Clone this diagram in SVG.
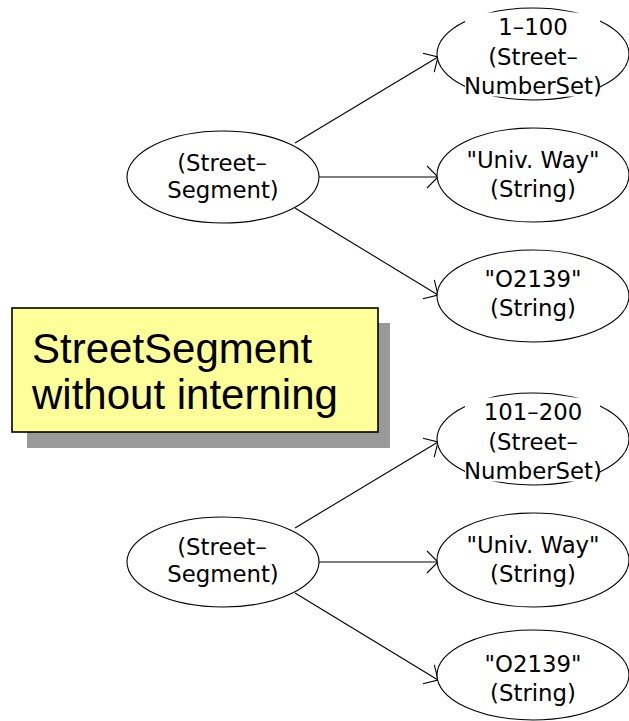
<svg xmlns="http://www.w3.org/2000/svg" width="629" height="721" viewBox="0 0 629 721">
  <style>
    .node ellipse { fill: #ffffff; stroke: #000000; stroke-width: 1.1; }
    .node text { font-family: "DejaVu Sans", "Liberation Sans", sans-serif; font-size: 22.8px; fill: #000000; text-anchor: middle; }
    .mask { fill: #ffffff; stroke: none; }
    .edge { stroke: #000000; stroke-width: 1.1; fill: none; marker-end: url(#open-arrow); }
    .note-text { font-family: "Liberation Sans", Arial, sans-serif; font-size: 42px; fill: #000000; }
  </style>
  <defs>
    <marker id="open-arrow" markerUnits="userSpaceOnUse" markerWidth="24" markerHeight="24" refX="12" refY="12" orient="auto" overflow="visible">
      <path d="M1,1 L12,12 L1,23" fill="none" stroke="#000000" stroke-width="1.1"/>
    </marker>
  </defs>

  <rect width="629" height="721" fill="#ffffff"/>

  <!-- connectors -->
  <g id="connectors">
    <line class="edge" x1="295" y1="143" x2="438" y2="57"/>
    <line class="edge" x1="319" y1="177" x2="438" y2="177"/>
    <line class="edge" x1="295" y1="208" x2="438" y2="295"/>
    <line class="edge" x1="295" y1="528" x2="438" y2="442"/>
    <line class="edge" x1="319" y1="562" x2="438" y2="562"/>
    <line class="edge" x1="295" y1="593" x2="438" y2="680"/>
  </g>

  <!-- upper object graph -->
  <g id="segment-1" class="node">
    <ellipse cx="223" cy="177" rx="96" ry="46"/>
    <text x="222" y="171">(Street–</text>
    <text x="223" y="198">Segment)</text>
  </g>
  <g id="numberset-1" class="node">
    <ellipse cx="533" cy="54" rx="96" ry="46"/>
    <rect class="mask" x="465" y="12.5" width="135" height="84"/>
    <text x="533" y="35">1–100</text>
    <text x="533" y="65">(Street–</text>
    <text x="533" y="94">NumberSet)</text>
  </g>
  <g id="name-1" class="node">
    <ellipse cx="533" cy="175" rx="96" ry="47"/>
    <text x="533" y="168">"Univ. Way"</text>
    <text x="533" y="197">(String)</text>
  </g>
  <g id="zip-1" class="node">
    <ellipse cx="533" cy="296" rx="96" ry="46"/>
    <text x="533" y="287">"O2139"</text>
    <text x="533" y="316">(String)</text>
  </g>

  <!-- caption note -->
  <g id="note">
    <rect x="27" y="323" width="363" height="125" fill="#999999"/>
    <rect x="12" y="308" width="366" height="124" fill="#ffff99" stroke="#000000" stroke-width="1.6"/>
    <text class="note-text" x="32" y="363">StreetSegment</text>
    <text class="note-text" x="32" y="409">without interning</text>
  </g>

  <!-- lower object graph -->
  <g id="segment-2" class="node">
    <ellipse cx="223" cy="562" rx="96" ry="45"/>
    <text x="222" y="555">(Street–</text>
    <text x="223" y="582">Segment)</text>
  </g>
  <g id="numberset-2" class="node">
    <ellipse cx="533" cy="439" rx="96" ry="46"/>
    <rect class="mask" x="465" y="397.5" width="135" height="84"/>
    <text x="533" y="420">101–200</text>
    <text x="533" y="450">(Street–</text>
    <text x="533" y="479">NumberSet)</text>
  </g>
  <g id="name-2" class="node">
    <ellipse cx="533" cy="560" rx="96" ry="47"/>
    <text x="533" y="553">"Univ. Way"</text>
    <text x="533" y="582">(String)</text>
  </g>
  <g id="zip-2" class="node">
    <ellipse cx="533" cy="675" rx="96" ry="45"/>
    <text x="533" y="672">"O2139"</text>
    <text x="533" y="701">(String)</text>
  </g>
</svg>
